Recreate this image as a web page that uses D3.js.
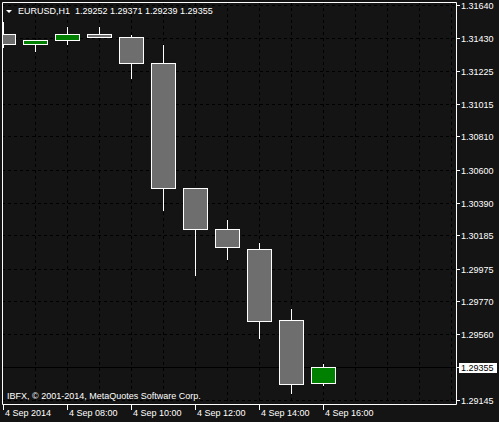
<!DOCTYPE html>
<html>
<head>
<meta charset="utf-8">
<script src="https://cdn.jsdelivr.net/npm/d3@7"></script>
<style>
  body { margin: 0; background: #141414; }
  svg { display: block; }
  text { font-family: "Liberation Sans", Arial, sans-serif; font-size: 9px; fill: #fff; }
</style>
</head>
<body>
<div id="chart"></div>
<script>
// hourly bars, 4 Sep 2014
var times  = ["06:00","07:00","08:00","09:00","10:00","11:00","12:00","13:00","14:00","15:00","16:00"];
var opens  = [1.31457, 1.31394, 1.31416, 1.31457, 1.31438, 1.31274, 1.30482, 1.30223, 1.30097, 1.29648, 1.29252];
var highs  = [1.31533, 1.31420, 1.31504, 1.31498, 1.31450, 1.31387, 1.30484, 1.30282, 1.30137, 1.29720, 1.29371];
var lows   = [1.31375, 1.31349, 1.31394, 1.31435, 1.31181, 1.30347, 1.29936, 1.30037, 1.29538, 1.29187, 1.29239];
var closes = [1.31394, 1.31419, 1.31457, 1.31441, 1.31272, 1.30482, 1.30223, 1.30110, 1.29642, 1.29244, 1.29355];

var priceTicks = [1.31640, 1.31430, 1.31225, 1.31015, 1.30810, 1.30600, 1.30390, 1.30185, 1.29975, 1.29770, 1.29560, 1.29355, 1.29145];
var timeTicks = ["06:00","08:00","10:00","12:00","14:00","16:00"];
var timeTickLabels = ["4 Sep 2014","4 Sep 08:00","4 Sep 10:00","4 Sep 12:00","4 Sep 14:00","4 Sep 16:00"];
var gridHours = ["07:00","08:00","09:00","10:00","11:00","12:00","13:00","14:00","15:00","16:00","17:00","18:00","19:00","20:00"];

var symbol = "EURUSD,H1";
var copyright = "IBFX, \u00a9 2001-2014, MetaQuotes Software Corp.";

var width = 499, height = 422;
var plot = {left: 2, top: 2, right: 456, bottom: 404};

var parseTime = d3.timeParse("%Y-%m-%d %H:%M");
function t(h) { return parseTime("2014-09-04 " + h); }

var bars = times.map(function(h, i) {
  return {date: t(h), open: opens[i], high: highs[i], low: lows[i], close: closes[i]};
});
var last = bars[bars.length - 1];

// scales
var x = d3.scaleTime().domain([t("06:00"), t("16:00")]).range([3, 323]);
var y = d3.scaleLinear().domain([1.29145, 1.31640]).range([400, 5]);

var svg = d3.select("#chart").append("svg")
    .attr("width", width)
    .attr("height", height);

svg.append("rect").attr("width", width).attr("height", height).attr("fill", "#141414");

var clip = svg.append("clipPath").attr("id", "clip")
  .append("rect")
    .attr("x", plot.left).attr("y", plot.top)
    .attr("width", plot.right - plot.left).attr("height", plot.bottom - plot.top);

var g = svg.append("g").attr("clip-path", "url(#clip)");

// grid
g.selectAll(".hgrid").data(priceTicks).enter().append("line")
    .attr("x1", plot.left).attr("x2", plot.right)
    .attr("y1", function(d) { return Math.round(y(d)) + 0.5; })
    .attr("y2", function(d) { return Math.round(y(d)) + 0.5; })
    .attr("stroke", "#000").attr("stroke-dasharray", "3,3");

g.selectAll(".vgrid").data(gridHours).enter().append("line")
    .attr("x1", function(d) { return Math.round(x(t(d))) + 0.5; })
    .attr("x2", function(d) { return Math.round(x(t(d))) + 0.5; })
    .attr("y1", plot.top).attr("y2", plot.bottom)
    .attr("stroke", "#000").attr("stroke-dasharray", "3,3");

// current price line
g.append("line")
    .attr("x1", plot.left).attr("x2", plot.right)
    .attr("y1", Math.round(y(last.close)) + 0.5)
    .attr("y2", Math.round(y(last.close)) + 0.5)
    .attr("stroke", "#000");

// candles
var candle = g.selectAll(".candle").data(bars).enter().append("g");

candle.append("line")
    .attr("x1", function(d) { return Math.round(x(d.date)) + 0.5; })
    .attr("x2", function(d) { return Math.round(x(d.date)) + 0.5; })
    .attr("y1", function(d) { return Math.round(y(d.high)); })
    .attr("y2", function(d) { return Math.round(y(d.low)) + 1; })
    .attr("stroke", "#fff");

candle.append("rect")
    .attr("x", function(d) { return Math.round(x(d.date)) - 12 + 0.5; })
    .attr("width", 24)
    .attr("y", function(d) { return Math.round(y(Math.max(d.open, d.close))) + 0.5; })
    .attr("height", function(d) { return Math.max(1, Math.round(y(Math.min(d.open, d.close))) - Math.round(y(Math.max(d.open, d.close)))); })
    .attr("fill", function(d) { return d.close > d.open ? "#008000" : "#6e6e6e"; })
    .attr("stroke", "#fff");

// frame
svg.append("path")
    .attr("d", "M" + (plot.left + 0.5) + "," + (plot.top + 0.5) + "H" + (plot.right + 0.5) +
               "V" + (plot.bottom + 0.5) + "H" + (plot.left + 0.5) + "Z")
    .attr("fill", "none").attr("stroke", "#fff");

// price axis
var pa = svg.selectAll(".ptick").data(priceTicks).enter().append("g")
    .attr("transform", function(d) { return "translate(0," + Math.round(y(d)) + ")"; });
pa.append("line")
    .attr("x1", plot.right + 1).attr("x2", plot.right + 4)
    .attr("y1", 0.5).attr("y2", 0.5).attr("stroke", "#fff");
pa.append("text")
    .attr("x", 461).attr("y", 4)
    .text(function(d) { return d3.format(".5f")(d); });

// current price label
var py = Math.round(y(last.close));
svg.append("rect")
    .attr("x", 459).attr("y", py - 4).attr("width", 38).attr("height", 10)
    .attr("fill", "#fff");
svg.append("text")
    .attr("x", 461).attr("y", py + 4)
    .style("fill", "#000")
    .text(d3.format(".5f")(last.close));

// time axis
var ta = svg.selectAll(".ttick").data(timeTicks).enter().append("g")
    .attr("transform", function(d) { return "translate(" + Math.round(x(t(d))) + ",0)"; });
ta.append("line")
    .attr("x1", 0.5).attr("x2", 0.5)
    .attr("y1", plot.bottom + 1).attr("y2", plot.bottom + 6)
    .attr("stroke", "#fff");
ta.append("text")
    .attr("x", 2).attr("y", 416)
    .text(function(d, i) { return timeTickLabels[i]; });

// header
svg.append("path").attr("d", "M6,10H12L9,13Z").attr("fill", "#fff");
svg.append("text")
    .attr("x", 18).attr("y", 14)
    .attr("xml:space", "preserve")
    .text(symbol + "  " + [last.open, last.high, last.low, last.close].map(d3.format(".5f")).join(" "));

svg.append("text")
    .attr("x", 7).attr("y", 399)
    .text(copyright);
</script>
</body>
</html>
